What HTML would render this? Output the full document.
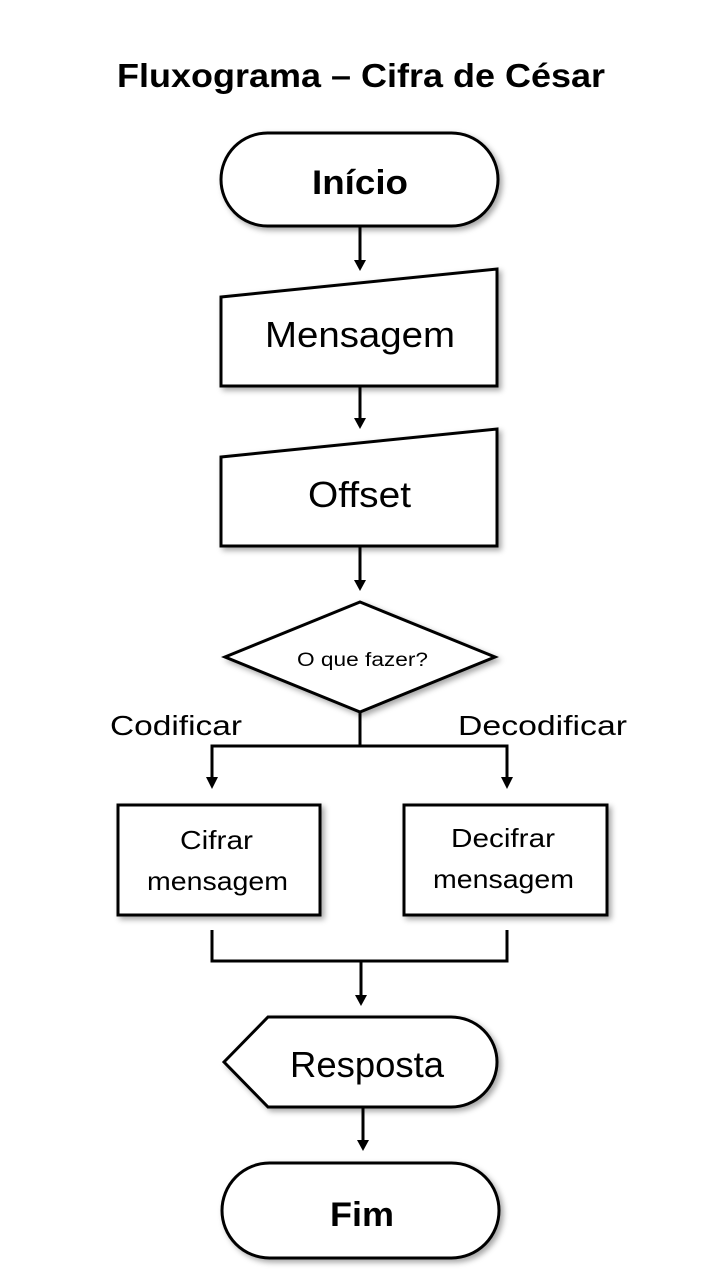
<!DOCTYPE html>
<html><head><meta charset="utf-8"><style>
html,body{margin:0;padding:0;background:#fff;}
svg{display:block;}
text{font-family:"Liberation Sans",sans-serif;fill:#000;}
</style></head><body>
<svg width="720" height="1280" viewBox="0 0 720 1280" xmlns="http://www.w3.org/2000/svg">
<defs>
<filter id="sh" x="-10%" y="-10%" width="130%" height="130%">
<feDropShadow dx="3" dy="3" stdDeviation="3" flood-color="#000" flood-opacity="0.35"/>
</filter>
</defs>
<text x="117" y="87" font-size="33" font-weight="bold" textLength="488" lengthAdjust="spacingAndGlyphs">Fluxograma – Cifra de César</text>

<g fill="#fff" stroke="#000" stroke-width="3" filter="url(#sh)">
<rect x="221" y="133" width="277" height="93" rx="46.5"/>
<path d="M221,297 L497,269 L497,386 L221,386 Z"/>
<path d="M221,457 L497,429 L497,546 L221,546 Z"/>
<path d="M360,602 L495,657 L360,712 L225,657 Z"/>
<rect x="118" y="805" width="202" height="110"/>
<rect x="404" y="805" width="203" height="110"/>
<path d="M224,1062 L268,1017 L451,1017 A46,45 0 0 1 451,1107 L268,1107 Z"/>
<rect x="222" y="1163" width="277" height="95" rx="47.5"/>
</g>

<g stroke="#000" stroke-width="3" fill="none">
<line x1="360" y1="226" x2="360" y2="262"/>
<line x1="360" y1="386" x2="360" y2="420"/>
<line x1="360" y1="546" x2="360" y2="582"/>
<polyline points="360,712 360,746"/>
<polyline points="212,780 212,746 507,746 507,780"/>
<polyline points="212,930 212,961 507,961 507,930"/>
<line x1="361" y1="961" x2="361" y2="997"/>
<line x1="363" y1="1107" x2="363" y2="1142"/>
</g>
<g fill="#000">
<path d="M354,260 L366,260 L360,271 Z"/>
<path d="M354,418 L366,418 L360,429 Z"/>
<path d="M354,580 L366,580 L360,591 Z"/>
<path d="M206,777 L218,777 L212,789 Z"/>
<path d="M501,777 L513,777 L507,789 Z"/>
<path d="M355,995 L367,995 L361,1006 Z"/>
<path d="M357,1140 L369,1140 L363,1151 Z"/>
</g>

<text x="312" y="194" font-size="34" font-weight="bold" textLength="96" lengthAdjust="spacingAndGlyphs">Início</text>
<text x="265" y="347" font-size="36" textLength="190" lengthAdjust="spacingAndGlyphs">Mensagem</text>
<text x="308" y="507" font-size="36" textLength="103" lengthAdjust="spacingAndGlyphs">Offset</text>
<text x="297" y="666" font-size="19" textLength="131" lengthAdjust="spacingAndGlyphs">O que fazer?</text>
<text x="110" y="735" font-size="28" textLength="132" lengthAdjust="spacingAndGlyphs">Codificar</text>
<text x="458" y="735" font-size="28" textLength="169" lengthAdjust="spacingAndGlyphs">Decodificar</text>
<text x="180" y="849" font-size="26" textLength="73" lengthAdjust="spacingAndGlyphs">Cifrar</text>
<text x="147" y="890" font-size="26" textLength="141" lengthAdjust="spacingAndGlyphs">mensagem</text>
<text x="451" y="847" font-size="26" textLength="104" lengthAdjust="spacingAndGlyphs">Decifrar</text>
<text x="433" y="888" font-size="26" textLength="141" lengthAdjust="spacingAndGlyphs">mensagem</text>
<text x="290" y="1077" font-size="36" textLength="154" lengthAdjust="spacingAndGlyphs">Resposta</text>
<text x="330" y="1226" font-size="34" font-weight="bold" textLength="64" lengthAdjust="spacingAndGlyphs">Fim</text>
</svg>
</body></html>
